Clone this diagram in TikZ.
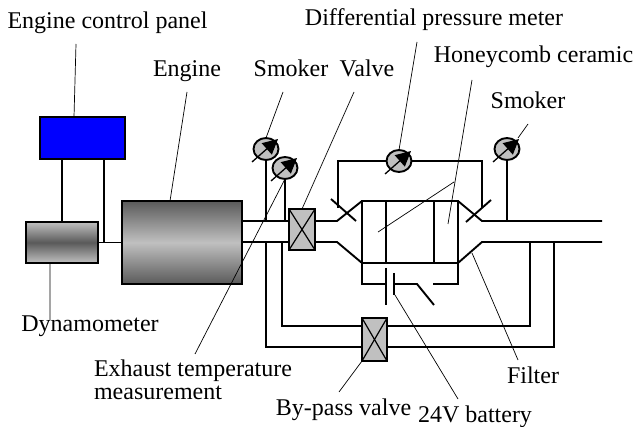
\documentclass[tikz,border=0pt]{standalone}
\usepackage{fontspec}
\setmainfont{Liberation Serif}
\usetikzlibrary{arrows.meta,shapes.geometric}
\definecolor{partgray}{HTML}{C0C0C0}
\definecolor{shadegray}{HTML}{5A5A5A}
\definecolor{panelblue}{HTML}{0000FF}

\begin{document}
\begin{tikzpicture}[
    x=1pt,
    y=-1pt,
    wire/.style={line width=1.9pt,line join=miter},
    leader/.style={line width=0.7pt},
    label text/.style={font=\fontsize{24}{23}\selectfont,inner sep=0pt,align=left,anchor=base},
    box node/.style={draw,line width=1.9pt,inner sep=0pt,outer sep=0pt},
    valve node/.style={box node,fill=partgray,path picture={
      \draw[line width=1.2pt] (path picture bounding box.north west) -- (path picture bounding box.south east);
      \draw[line width=1.2pt] (path picture bounding box.north east) -- (path picture bounding box.south west);}},
    meter node/.style={ellipse,draw,line width=1.9pt,fill=partgray,inner sep=0pt,outer sep=0pt,
      minimum width=25pt,minimum height=22pt},
    meter arrow/.style={line width=1.3pt,-{Triangle[length=15pt,width=15pt]}}]

  \useasboundingbox (0,0) rectangle (634,427);

  % parts
  \node[box node,fill=panelblue,minimum width=85pt,minimum height=42pt] (Panel) at (82.5,138) {};
  \node[box node,top color=partgray,bottom color=partgray,middle color=shadegray,minimum width=72pt,minimum height=41pt] (Dyno) at (62,242.5) {};
  \node[box node,top color=shadegray,bottom color=shadegray,middle color=partgray,minimum width=120pt,minimum height=83pt] (Engine) at (182,242.5) {};
  \node[valve node,minimum width=26pt,minimum height=41pt] (Valve) at (302,229.5) {};
  \node[valve node,minimum width=25pt,minimum height=43pt] (Bypass) at (374.5,339.5) {};
  \node[box node,minimum width=96pt,minimum height=62pt] (Filter) at (410,232) {};
  \node[meter node] (SmokerA) at (266,149) {};
  \node[meter node] (Temp) at (285,168) {};
  \node[meter node] (Diff) at (399,161) {};
  \node[meter node] (SmokerB) at (507,149) {};

  % pipe and wire corners
  \coordinate (PipeTop) at (242,221);
  \coordinate (PipeBot) at (242,242);
  \coordinate (ConeTL) at (337,221);
  \coordinate (ConeBL) at (337,242);
  \coordinate (ConeTR) at (482,221);
  \coordinate (ConeBR) at (482,242);
  \coordinate (PipeEndT) at (602,221);
  \coordinate (PipeEndB) at (602,242);
  \coordinate (CrossLa) at (331,199);
  \coordinate (CrossLb) at (356,221);
  \coordinate (CrossRa) at (491,200);
  \coordinate (CrossRb) at (466,222);
  \coordinate (DiffL) at (338,208);
  \coordinate (DiffR) at (482,208);
  \coordinate (TapA) at (282,242);
  \coordinate (TapB) at (266,242);
  \coordinate (TapC) at (530,242);
  \coordinate (TapD) at (554,242);
  \coordinate (InnerA) at (386,201);
  \coordinate (InnerB) at (434,201);
  \coordinate (BatL) at (362,284);
  \coordinate (BatR) at (458,284);
  \coordinate (PlateAt) at (386,268);
  \coordinate (PlateAb) at (386,305);
  \coordinate (PlateBt) at (394,273);
  \coordinate (PlateBb) at (394,295);
  \coordinate (SwitchA) at (417,284);
  \coordinate (SwitchB) at (434,305);
  \coordinate (SwitchC) at (433,284);
  \coordinate (PanelTap) at (104,159);
  \coordinate (DynoTap) at (104,243);

  \draw[wire] (Dyno.north) -- (Dyno.north |- Panel.south);
  \draw[wire] (PanelTap) -- (DynoTap);
  \draw[wire] (Dyno.east) -- (Engine.west);
  \draw[wire] (PipeTop) -- (Valve.west |- PipeTop);
  \draw[wire] (PipeBot) -- (Valve.west |- PipeBot);
  \draw[wire] (Valve.east |- PipeTop) -- (ConeTL) -- (Filter.north west);
  \draw[wire] (Valve.east |- PipeBot) -- (ConeBL) -- (Filter.south west);
  \draw[wire] (Filter.north east) -- (ConeTR) -- (PipeEndT);
  \draw[wire] (Filter.south east) -- (ConeBR) -- (PipeEndB);
  \draw[wire] (InnerA) -- (InnerA |- Filter.south);
  \draw[wire] (InnerB) -- (InnerB |- Filter.south);
  \draw[wire] (CrossLa) -- (CrossLb);
  \draw[wire] (CrossRa) -- (CrossRb);

  \draw[wire] (SmokerA.south) -- (SmokerA.south |- PipeTop);
  \draw[wire] (Temp.south) -- (Temp.south |- PipeTop);
  \draw[wire] (SmokerB.south) -- (SmokerB.south |- PipeTop);
  \draw[wire] (Diff.west) -| (DiffL);
  \draw[wire] (Diff.east) -| (DiffR);

  \draw[wire] (TapA) |- ([yshift=13.5pt]Bypass.west);
  \draw[wire] (TapB) |- ([yshift=-7.5pt]Bypass.west);
  \draw[wire] (TapC) |- ([yshift=13.5pt]Bypass.east);
  \draw[wire] (TapD) |- ([yshift=-7.5pt]Bypass.east);

  \draw[wire] (Filter.south west) -- (BatL) -- (BatL -| PlateAt);
  \draw[wire] (PlateAt) -- (PlateAb);
  \draw[wire] (PlateBt) -- (PlateBb);
  \draw[wire] (PlateBt |- BatL) -- (SwitchA) -- (SwitchB);
  \draw[wire] (SwitchC) -- (BatR) -- (Filter.south east);

  \foreach \g in {SmokerA,Temp,Diff,SmokerB}
    \draw[meter arrow] ([shift={(-14,13)}]\g.center) -- ([shift={(12,-10)}]\g.center);

  % labels
  \node[label text] (PanelText) at (107.5,29) {Engine control panel};
  \node[label text] (EngineText) at (187,77) {Engine};
  \node[label text] (SmokerAText) at (291,77) {Smoker};
  \node[label text] (ValveText) at (367,77) {Valve};
  \node[label text] (DiffText) at (434,26) {Differential pressure meter};
  \node[label text] (HoneyText) at (533.5,63) {Honeycomb ceramic};
  \node[label text] (SmokerBText) at (528,109) {Smoker};
  \node[label text] (DynoText) at (90,331) {Dynamometer};
  \node[label text,anchor=center] (TempText) at (193,380) {Exhaust temperature\\measurement};
  \node[label text] (BypassText) at (343.5,415) {By-pass valve};
  \node[label text] (BatteryText) at (475,422) {24V battery};
  \node[label text] (FilterText) at (533,383) {Filter};

  % leaders
  \coordinate (LeadPanel) at (76,44);
  \coordinate (PanelEnd) at (74,117);
  \coordinate (LeadEngine) at (187,92);
  \coordinate (EngineEnd) at (170,201);
  \coordinate (LeadSmokerA) at (283,92);
  \coordinate (LeadValve) at (354,92);
  \coordinate (LeadDiff) at (417,42);
  \coordinate (LeadHoney) at (472,80);
  \coordinate (HoneyEnd) at (448,224);
  \coordinate (HoneyA) at (454,182);
  \coordinate (HoneyB) at (378,232);
  \coordinate (LeadSmokerB) at (528,124);
  \coordinate (SmokerBEnd) at (518,138);
  \coordinate (LeadTemp) at (195,354);
  \coordinate (LeadDyno) at (50,320);
  \coordinate (DynoEnd) at (50,263);
  \coordinate (LeadBypass) at (339,392);
  \coordinate (LeadBattery) at (458,399);
  \coordinate (BatteryEnd) at (395,295);
  \coordinate (LeadFilter) at (518,360);
  \coordinate (FilterEnd) at (472,253);

  \path[draw,leader]
    (LeadPanel) -- (PanelEnd)
    (LeadEngine) -- (EngineEnd)
    (LeadSmokerA) -- (SmokerA.north)
    (LeadValve) -- (Valve.north)
    (LeadDiff) -- (Diff.north)
    (LeadHoney) -- (HoneyEnd)
    (HoneyA) -- (HoneyB)
    (LeadSmokerB) -- (SmokerBEnd)
    (LeadTemp) -- (Temp.south)
    (LeadDyno) -- (DynoEnd)
    (LeadBypass) -- (Bypass.south west)
    (LeadBattery) -- (BatteryEnd)
    (LeadFilter) -- (FilterEnd);
\end{tikzpicture}
\end{document}
